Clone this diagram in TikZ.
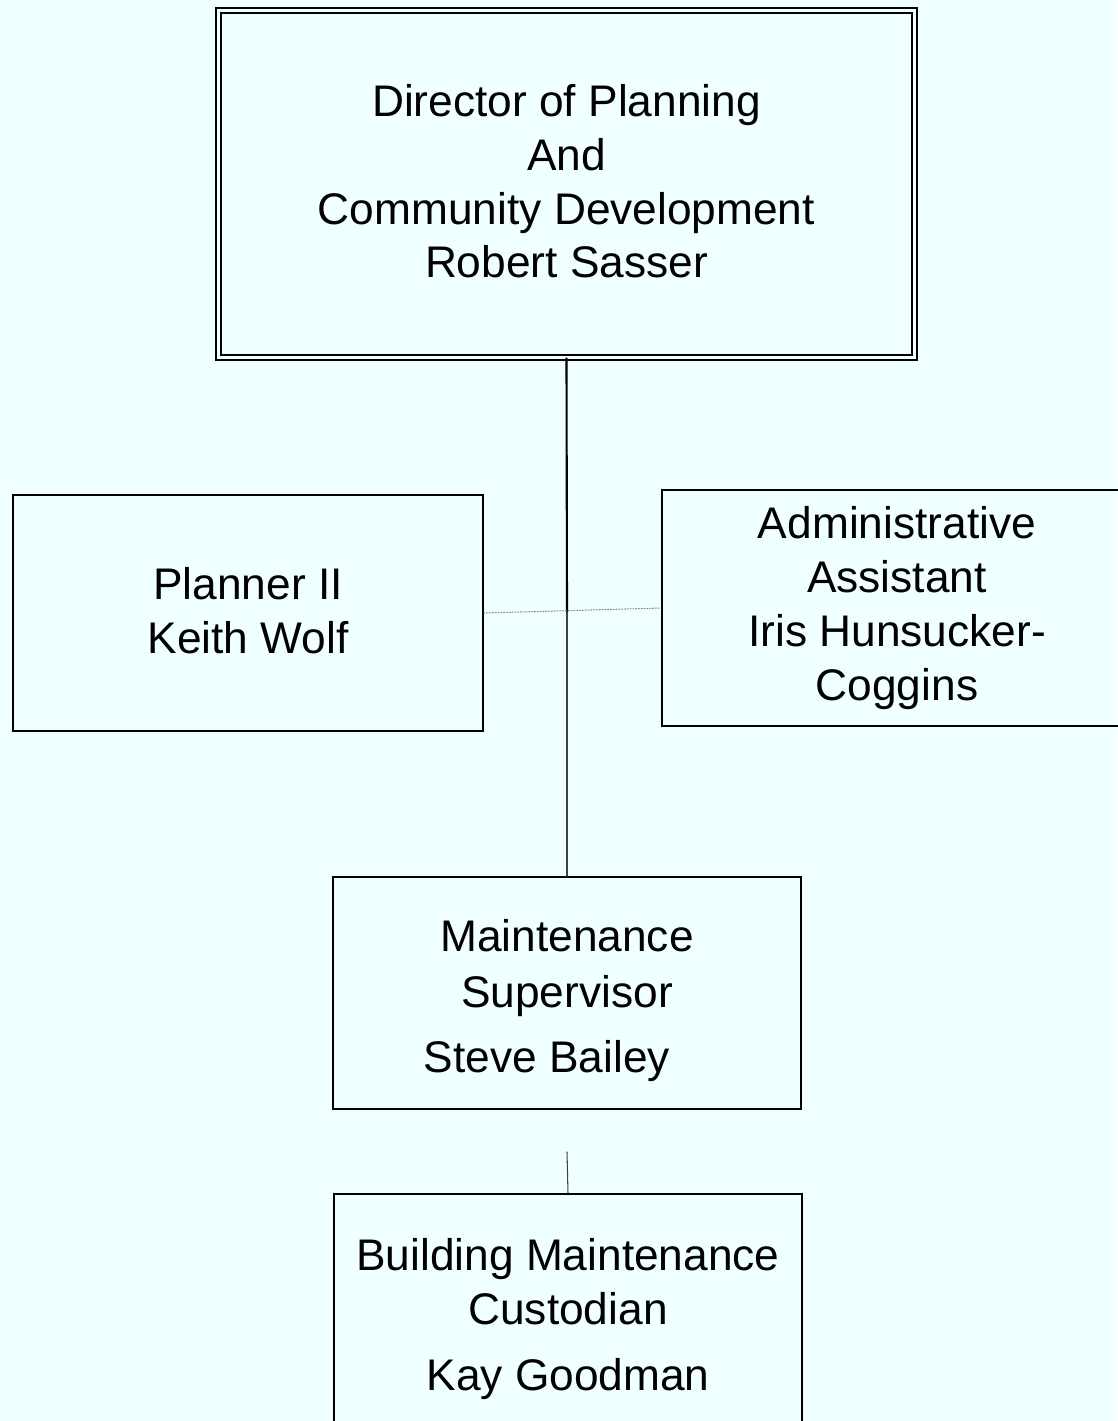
\documentclass[tikz,border=0pt]{standalone}
\usepackage{fontspec}
\setmainfont{Liberation Sans}
\usepackage{tikz}

\begin{document}
\begin{tikzpicture}[x=0.02cm,y=-0.02cm,line cap=round,
  post/.style={draw,line width=1.1pt,rectangle,inner sep=0pt,align=center,
    minimum width=9.4cm,minimum height=4.7cm,font=\fontsize{25.2}{30.7}\selectfont},
  head post/.style={post,double=pagecolor,double distance=1.6pt,line width=1pt},
  main line/.style={line width=1.2pt},
  thin line/.style={line width=0.6pt,black!75},
  staff line/.style={line width=0.6pt,densely dotted,black!45}]
 \definecolor{pagecolor}{HTML}{F0FFFF}

 \fill[pagecolor] (0,0) rectangle (1117,1421);
 \useasboundingbox (0,0) rectangle (1117,1421);

 \node[head post,minimum width=13.92cm,minimum height=6.94cm] (director) at (566.5,184)
   {Director of Planning\\And\\Community Development\\Robert Sasser\rule[-0.12cm]{0pt}{0.12cm}};
 \node[post,minimum height=4.72cm] (planner) at (248,613)
   {Planner II\\Keith Wolf\rule[-0.12cm]{0pt}{0.12cm}};
 \node[post,minimum height=4.72cm] (assistant) at (897,608)
   {Administrative\\Assistant\\Iris Hunsucker-\\Coggins};
 \node[post,minimum width=9.36cm,minimum height=4.64cm] (supervisor) at (567,993)
   {\rule{0pt}{27pt}Maintenance\\[0.04cm]Supervisor\\[0.22cm]Steve Bailey\hspace*{0.8cm}};
 \node[post,minimum width=9.36cm,minimum height=4.72cm] (custodian) at (568,1312)
   {\rule{0pt}{26pt}Building Maintenance\\Custodian\\[0.24cm]Kay Goodman};

 \coordinate (hub) at (567,612);
 \coordinate (stub) at (567,1152);

 \draw[main line] (director.south) -- (hub);
 \draw[thin line] (hub) -- (supervisor.north);
 \draw[staff line] (planner.east) -- (assistant.west);
 \draw[thin line] (stub) -- (custodian.north);
\end{tikzpicture}
\end{document}
